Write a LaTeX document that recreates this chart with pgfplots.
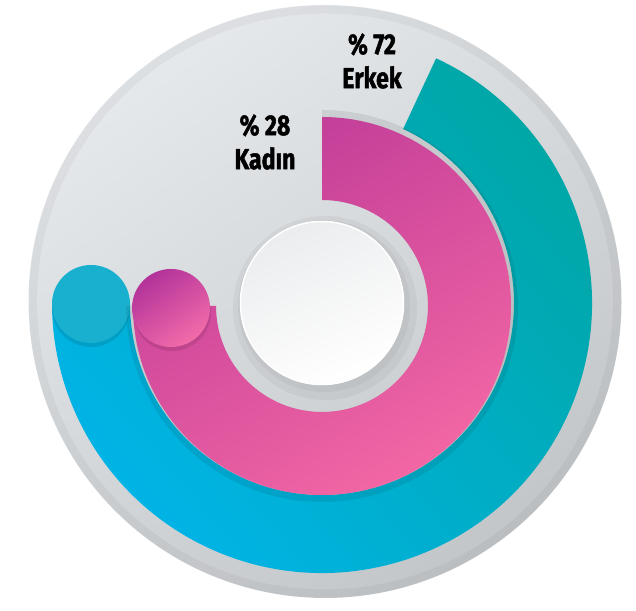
\documentclass[border=0pt]{standalone}
\usepackage{pgfplots}
\pgfplotsset{compat=1.18}
\usepackage{fontspec}
\setmainfont{Fira Sans}
\newfontfamily\lab{Fira Sans}[FakeStretch=0.80, FakeBold=1.6]
\definecolor{bgLight}{HTML}{E6E9EC}
\definecolor{bgDark}{HTML}{C3C6C9}
\definecolor{tealc}{HTML}{00A7A6}
\definecolor{cyanc}{HTML}{00B4E8}
\definecolor{capBlue}{HTML}{19B0CF}
\definecolor{pinkTop}{HTML}{C03C98}
\definecolor{pinkBot}{HTML}{F266A4}
\definecolor{capPinkA}{HTML}{B2329A}
\definecolor{capPinkB}{HTML}{F26CA9}
\definecolor{hole}{HTML}{D3D6D9}

% ring geometry (axis units = px): start/end angle, inner/outer radius
% Erkek  72 %:  65 -> -180, 192 -> 270
% Kadin  28 %:  90 -> -180, 106 -> 189

\begin{document}
\begin{tikzpicture}
\begin{axis}[
    hide axis,
    scale only axis,
    width=636bp, height=600bp,
    xmin=-322, xmax=314,
    ymin=-297, ymax=303,
    clip=false,
]
\fill[white] (axis cs:-322,-297) rectangle (axis cs:314,303);
% background disc
\shade[top color=bgLight, bottom color=bgDark, shading angle=35]
    (axis cs:3,1.5) circle[radius=296.5];
\draw[black, opacity=0.04, line width=8] (axis cs:3,1.5) circle[radius=292];

% outer ring: Erkek
\shade[top color=tealc, bottom color=cyanc, shading angle=-50]
    (axis cs:{270*cos(65)},{270*sin(65)})
    arc[start angle=65, end angle=-180, radius=270]
    -- (axis cs:-192,0)
    arc[start angle=-180, end angle=65, radius=192]
    -- cycle;
\fill[black, opacity=0.10] (axis cs:-231,-5) circle[radius=39];
\fill[capBlue] (axis cs:-231,-1) circle[radius=39];

% shadow of inner ring on outer ring
\fill[black, opacity=0.08]
    (axis cs:0,193) arc[start angle=90, end angle=-180, radius=196]
    -- (axis cs:-106,-3) arc[start angle=-180, end angle=90, radius=106] -- cycle;

% inner ring: Kadin
\shade[top color=pinkTop, bottom color=pinkBot, shading angle=30]
    (axis cs:0,186)
    arc[start angle=90, end angle=-180, radius=189]
    -- (axis cs:-106,-3)
    arc[start angle=-180, end angle=90, radius=106]
    -- cycle;
\fill[black, opacity=0.10] (axis cs:-150,-9) circle[radius=39];
\shade[top color=capPinkA, bottom color=capPinkB, shading angle=35]
    (axis cs:-151,-5) circle[radius=39];

% centre hole
\fill[black, opacity=0.04] (axis cs:3,-5) circle[radius=92];
\fill[black, opacity=0.04] (axis cs:2,-3) circle[radius=86];
\shade[top color=hole!45!white, bottom color=white, shading angle=25]
    (axis cs:0,0) circle[radius=82];
\draw[white, line width=1.5] (axis cs:0,0) circle[radius=81.5];

% labels
\node[font=\lab\bfseries\fontsize{29}{34}\selectfont, align=center]
    at (axis cs:50,242) {\% 72\\Erkek};
\node[font=\lab\bfseries\fontsize{29}{34}\selectfont, align=center]
    at (axis cs:-57,161) {\% 28\\Kadın};
\end{axis}
\end{tikzpicture}
\end{document}
